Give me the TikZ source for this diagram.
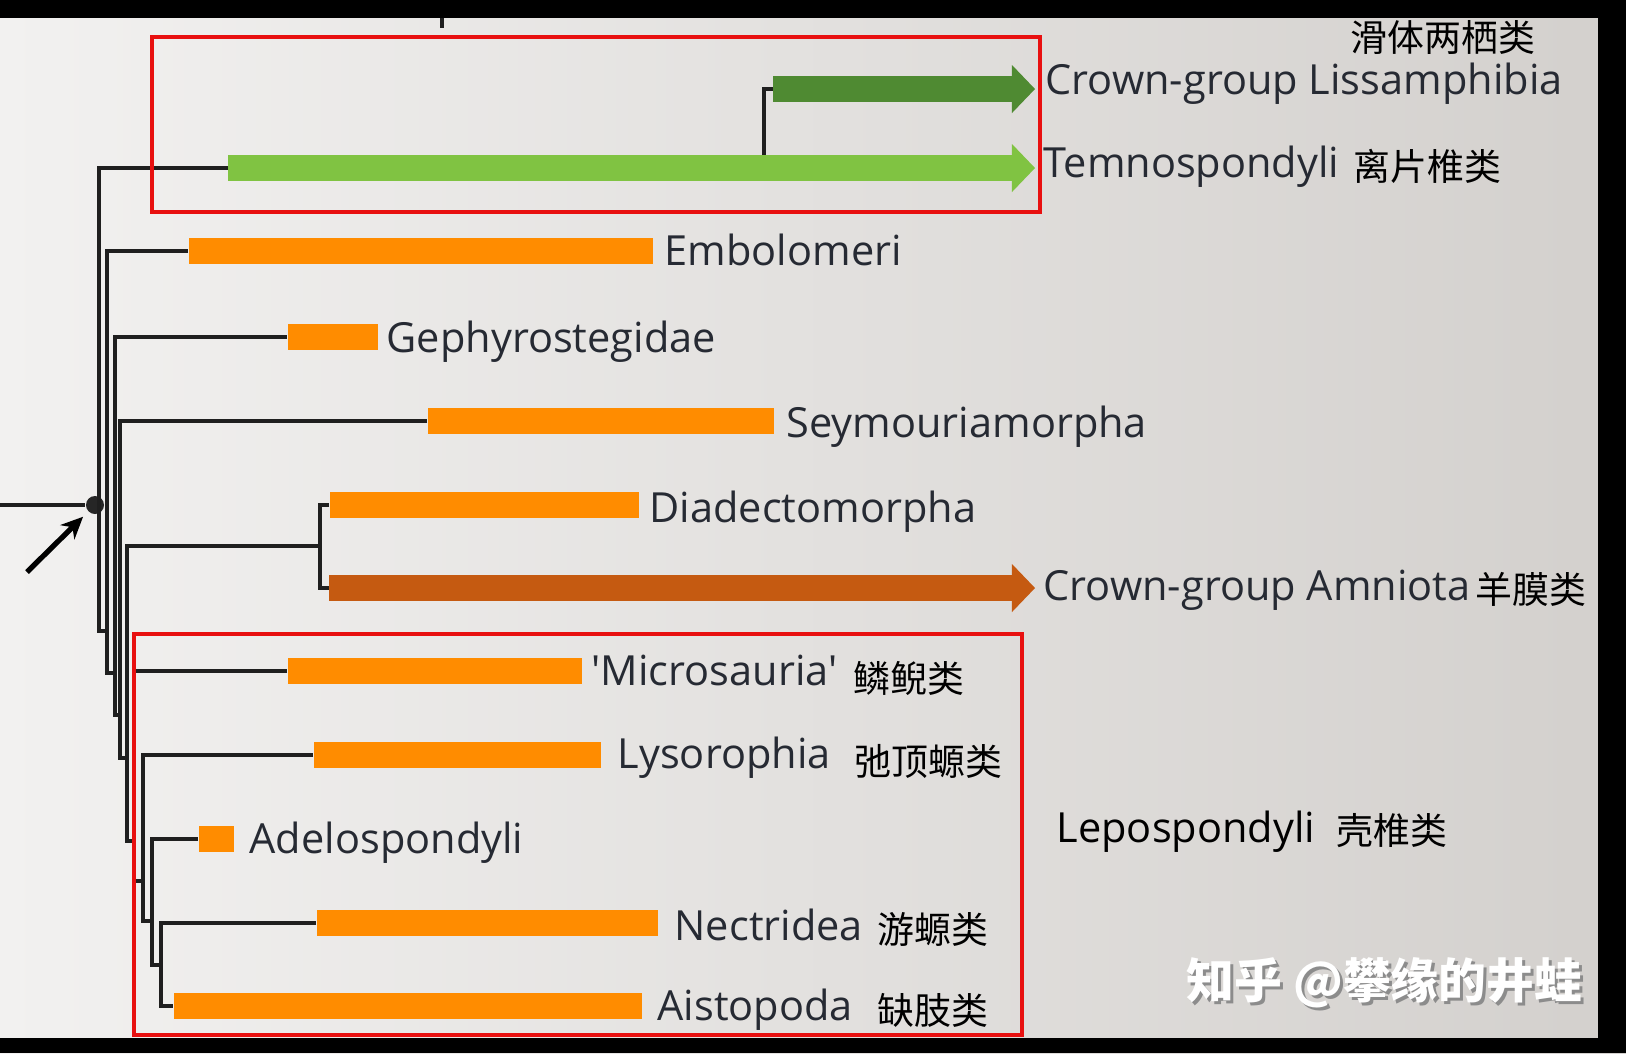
\documentclass[tikz,border=0pt]{standalone}
\usepackage{fontspec}
\setmainfont{Open Sans}
\newfontfamily\cjk{Noto Sans CJK SC}
\usetikzlibrary{arrows.meta}

\definecolor{bgleft}{HTML}{F2F1F0}
\definecolor{bgright}{HTML}{D3D0CD}
\definecolor{barorange}{HTML}{FF8C00}
\definecolor{amniote}{HTML}{C55A11}
\definecolor{lissgreen}{HTML}{4F8A32}
\definecolor{temnogreen}{HTML}{80C342}
\definecolor{boxred}{HTML}{E81010}
\definecolor{labelgray}{HTML}{262A33}

\tikzset{
	branch/.style={line width=1pt, draw=black!88},
	bar/.style={anchor=west, inner sep=0pt, minimum height=0.26cm, fill=barorange},
	crown/.style={line width=0.26cm, draw=#1, -{Triangle[length=0.23cm, width=0.48cm, line width=0pt]}},
	taxon/.style={anchor=base west, inner sep=0pt, text=labelgray, font=\fontsize{11.8}{13}\selectfont},
	zh/.style={anchor=west, inner sep=0pt, text=black, font=\cjk\fontsize{10.5}{12}\selectfont},
	redbox/.style={draw=boxred, line width=1.4pt},
}

\begin{document}
\begin{tikzpicture}[x=0.01cm, y=-0.01cm]
	\useasboundingbox (0,0) rectangle (1626,1053);
	\shade[left color=bgleft, right color=bgright] (0,0) rectangle (1626,1053);

	\coordinate (liss) at (773,89);
	\coordinate (temno) at (228,168);
	\coordinate (amn) at (329,588);
	\draw[crown=lissgreen] (liss) -- (1035,89);
	\draw[crown=temnogreen] (temno) -- (1035,168);
	\draw[crown=amniote] (amn) -- (1035,588);

	\node[bar, minimum width=4.64cm] (emb) at (188,251) {};
	\node[bar, minimum width=0.90cm] (geph) at (287,337) {};
	\node[bar, minimum width=3.46cm] (seym) at (427,421) {};
	\node[bar, minimum width=3.09cm] (diad) at (329,505) {};
	\node[bar, minimum width=2.94cm] (micro) at (287,671) {};
	\node[bar, minimum width=2.87cm] (lyso) at (313,755) {};
	\node[bar, minimum width=0.35cm] (adelo) at (198,839) {};
	\node[bar, minimum width=3.41cm] (nectr) at (316,923) {};
	\node[bar, minimum width=4.68cm] (aisto) at (173,1006) {};

	\coordinate (root) at (0,505);
	\node[circle, fill=black!85, minimum size=0.18cm, inner sep=0pt] (base) at (95,505) {};
	\coordinate (k1) at (99,631);
	\coordinate (k2) at (107,673);
	\coordinate (k3) at (115,715);
	\coordinate (k4) at (120,758);
	\coordinate (k5) at (127,841);
	\coordinate (k6) at (134,881);
	\coordinate (k7) at (143,921);
	\coordinate (k8) at (152,965);
	\coordinate (k9) at (161,1006);
	\coordinate (da) at (320,546);
	\coordinate (ls) at (764,155);
	\draw[branch] (root) -- (base);
	\draw[branch] (temno) -| (k1) -| (k2);
	\draw[branch] (emb.west) -| (k2) -| (k3);
	\draw[branch] (geph.west) -| (k3) -| (k4);
	\draw[branch] (seym.west) -| (k4) -| (k5);
	\draw[branch] (diad.west) -| (da) |- (amn);
	\draw[branch] (da) -| (k5) -| (k6);
	\draw[branch] (micro.west) -| (k6) -| (k7);
	\draw[branch] (lyso.west) -| (k7) -| (k8);
	\draw[branch] (adelo.west) -| (k8) -| (k9);
	\draw[branch] (nectr.west) -| (k9) -- (aisto.west);
	\draw[branch] (ls) |- (liss);

	\coordinate (pt) at (27,572);
	\draw[line width=1.5pt, shorten >=2pt, -{Stealth[length=0.22cm, width=0.2cm]}] (pt) -- (base);

	\draw[redbox] (152,37) rectangle (1040,212);
	\draw[redbox] (134,634) rectangle (1022,1035);

	\node[taxon] (lisslabel) at (1045,94) {Crown-group Lissamphibia};
	\node[taxon] (temnolabel) at (1043,177) {Temnospondyli};
	\node[taxon] (emblabel) at (664,265) {Embolomeri};
	\node[taxon] (gephlabel) at (386,352) {Gephyrostegidae};
	\node[taxon] (seymlabel) at (786,437) {Seymouriamorpha};
	\node[taxon] (diadlabel) at (649,522) {Diadectomorpha};
	\node[taxon] (amnlabel) at (1043,600) {Crown-group Amniota};
	\node[taxon] (microlabel) at (591,685) {\textquotesingle Microsauria\textquotesingle};
	\node[taxon] (lysolabel) at (617,768) {Lysorophia};
	\node[taxon] (adelolabel) at (249,853) {Adelospondyli};
	\node[taxon] (nectrlabel) at (674,940) {Nectridea};
	\node[taxon] (aistolabel) at (657,1020) {Aistopoda};
	\node[taxon, text=black] (lepolabel) at (1056,842) {Lepospondyli};

	\node[zh] (lisszh) at (1350,37) {滑体两栖类};
	\node[zh] (temnozh) at (1353,166) {离片椎类};
	\node[zh] (amnzh) at (1475,589) {羊膜类};
	\node[zh] (microzh) at (853,678) {鳞鲵类};
	\node[zh] (lysozh) at (854,761) {弛顶螈类};
	\node[zh] (nectrzh) at (877,929) {游螈类};
	\node[zh] (aistozh) at (877,1010) {缺肢类};
	\node[zh] (lepozh) at (1336,831) {壳椎类};

	\node[anchor=west, inner sep=0pt, text=black!45, font=\cjk\bfseries\fontsize{13.6}{15}\selectfont] (markshadow) at (1189,986) {知乎 @攀缘的井蛙};
	\node[anchor=west, inner sep=0pt, text=white, font=\cjk\bfseries\fontsize{13.6}{15}\selectfont] (mark) at (1186,983) {知乎 @攀缘的井蛙};

	\fill[black] (0,0) rectangle (1626,18);
	\fill[black] (1598,0) rectangle (1626,1053);
	\fill[black] (0,1038) rectangle (1626,1053);
	\coordinate (tick) at (442,18);
	\draw[branch] (tick) -- ++(0,10);
\end{tikzpicture}
\end{document}
